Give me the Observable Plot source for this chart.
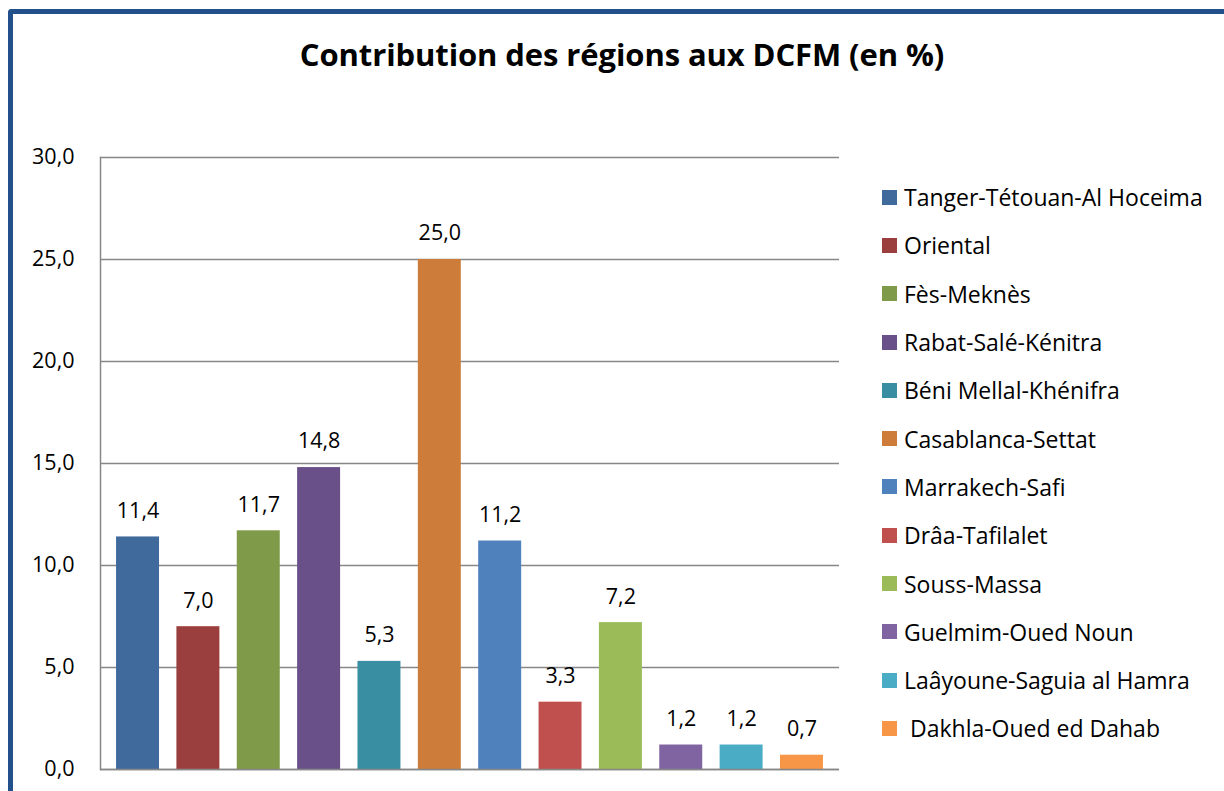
<!DOCTYPE html>
<html>
<head>
<meta charset="utf-8">
<script src="https://cdn.jsdelivr.net/npm/d3@7"></script>
<script src="https://cdn.jsdelivr.net/npm/@observablehq/plot@0.6"></script>
<style>
  html, body { margin: 0; padding: 0; background: #fff; }
  #wrap { position: relative; width: 1224px; height: 791px; overflow: hidden; font-family: "Open Sans", sans-serif; }
  #frame { position: absolute; left: 8px; top: 9px; width: 1300px; height: 900px; border-left: 5px solid #21508a; border-top: 5px solid #21508a; border-top-left-radius: 4px; }
  #title { position: absolute; left: 0; top: 33px; width: 1244px; text-align: center; font-weight: 700; font-size: 31px; color: #000; letter-spacing: -0.1px; }
  #chart { position: absolute; left: 0; top: 0; }
  #legend { position: absolute; left: 882px; top: 173px; }
  .row { height: 48.3px; display: flex; align-items: center; font-size: 23px; color: #000; white-space: pre; }
  .sw { width: 15px; height: 15px; margin-right: 7px; flex: none; }
</style>
</head>
<body>
<div id="wrap">
  <div id="frame"></div>
  <div id="chart"></div>
  <div id="title"></div>
  <div id="legend"></div>
</div>
<script>
const titleText = "Contribution des régions aux DCFM (en %)";
const regions = [
  "Tanger-Tétouan-Al Hoceima",
  "Oriental",
  "Fès-Meknès",
  "Rabat-Salé-Kénitra",
  "Béni Mellal-Khénifra",
  "Casablanca-Settat",
  "Marrakech-Safi",
  "Drâa-Tafilalet",
  "Souss-Massa",
  "Guelmim-Oued Noun",
  "Laâyoune-Saguia al Hamra",
  " Dakhla-Oued ed Dahab"
];
const values = [11.4, 7.0, 11.7, 14.8, 5.3, 25.0, 11.2, 3.3, 7.2, 1.2, 1.2, 0.7];
const colors = ["#3f6a9b", "#9b3f3e", "#7f9a48", "#6a5089", "#3a8ea2", "#cd7c3a",
                "#4f81bd", "#c0504d", "#9bbb59", "#8064a2", "#4bacc6", "#f79646"];
const yTicks = [0, 5, 10, 15, 20, 25, 30];

const fmt = d => d.toFixed(1).replace(".", ",");
const data = regions.map((r, i) => ({region: r, value: values[i]}));

document.getElementById("title").textContent = titleText;

const chart = Plot.plot({
  width: 1224,
  height: 791,
  marginLeft: 100,
  marginRight: 385,
  marginTop: 157,
  marginBottom: 22,
  style: {fontFamily: "Open Sans, sans-serif", fontSize: "21.5px", color: "#000", background: "transparent", overflow: "visible"},
  x: {domain: regions, paddingInner: 0.288, paddingOuter: 0.266, round: false, axis: null},
  y: {domain: [0, 30]},
  color: {domain: regions, range: colors},
  marks: [
    Plot.gridY(yTicks, {stroke: "#878787", strokeOpacity: 1, strokeWidth: 1.5}),
    Plot.frame({anchor: "left", stroke: "#878787", strokeWidth: 1.5}),
    Plot.axisY(yTicks, {tickSize: 0, tickPadding: 26, tickFormat: fmt, label: null, fill: "#000"}),
    Plot.barY(data, {x: "region", y: "value", fill: "region"}),
    Plot.ruleY([0], {stroke: "#878787", strokeWidth: 1.5}),
    Plot.text(data, {x: "region", y: "value", text: d => fmt(d.value), dy: -26, fill: "#000"})
  ]
});
document.getElementById("chart").appendChild(chart);

const legend = document.getElementById("legend");
regions.forEach((r, i) => {
  const row = document.createElement("div");
  row.className = "row";
  const sw = document.createElement("span");
  sw.className = "sw";
  sw.style.background = colors[i];
  const t = document.createElement("span");
  t.textContent = r;
  row.appendChild(sw);
  row.appendChild(t);
  legend.appendChild(row);
});
</script>
</body>
</html>
